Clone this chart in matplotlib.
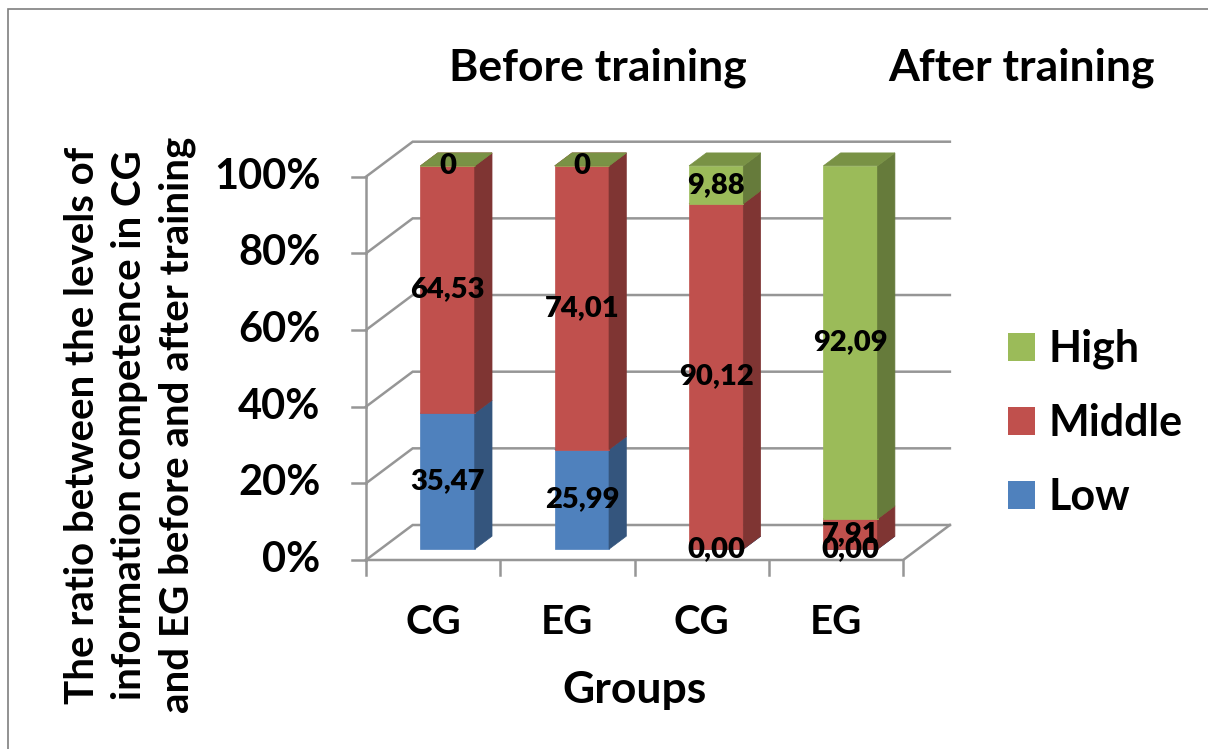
import matplotlib.pyplot as plt
from matplotlib.patches import Polygon, Rectangle, Patch
from matplotlib.colors import to_rgb

# data
groups = ['CG', 'EG', 'CG', 'EG']
phases = ['Before training', 'After training']
series = ['Low', 'Middle', 'High']
low = [35.47, 25.99, 0.0, 0.0]
middle = [64.53, 74.01, 90.12, 7.91]
high = [0, 0, 9.88, 92.09]
y_ticks = [0, 20, 40, 60, 80, 100]

colors = {'Low': '#4F81BD', 'Middle': '#C0504D', 'High': '#9BBB59'}

plt.rcParams['font.family'] = ['Lato', 'DejaVu Sans']
plt.rcParams['font.weight'] = 'bold'

# oblique "3D" look: depth vector of the box in data units (category, percent)
DX, DY = 0.348, 9.13
BAR_W = 0.404
F0, F1 = 0.31, 0.68   # front and back of the bars inside the depth
GRID = '#969696'


def shade(c, k):
    r, g, b = to_rgb(c)
    return (r * k, g * k, b * k)


def fmt(v):
    if isinstance(v, int):
        return str(v)
    return f"{v:.2f}".replace('.', ',')


fig = plt.figure(figsize=(12.08, 7.49), dpi=100)
ax = fig.add_axes([0, 0, 1, 1])
ax.set_xlim(-2.725, 6.270)
ax.set_ylim(-49.31, 146.1)
ax.axis('off')

n = len(groups)

# walls / gridlines
for v in y_ticks:
    ax.plot([0, DX, n + DX], [v, v + DY, v + DY], color=GRID, lw=1.8, zorder=1,
            solid_joinstyle='miter')
    ax.plot([-0.106, 0], [v, v], color=GRID, lw=1.8, zorder=1)
    ax.text(-0.34, v, f"{v}%", ha='right', va='center', fontsize=30,
            fontweight='bold')
ax.plot([0, 0], [0, 100], color=GRID, lw=1.8, zorder=1)
ax.plot([0, n, n + DX], [0, 0, DY], color=GRID, lw=1.8, zorder=1,
        solid_joinstyle='miter')
for i in range(n + 1):
    ax.plot([i, i], [0, -3.9], color=GRID, lw=1.8, zorder=1)

# stacked bars
stack = {'Low': low, 'Middle': middle, 'High': high}
for i in range(n):
    base = 0.0
    xl = i + 0.5 - BAR_W / 2 + F0 * DX
    xr = xl + BAR_W
    ox, oy = (F1 - F0) * DX, (F1 - F0) * DY
    for s in series:
        v = stack[s][i]
        c = colors[s]
        y0 = base + F0 * DY
        y1 = base + v + F0 * DY
        front = [(xl, y0), (xr, y0), (xr, y1), (xl, y1)]
        side = [(xr, y0), (xr + ox, y0 + oy), (xr + ox, y1 + oy), (xr, y1)]
        top = [(xl, y1), (xr, y1), (xr + ox, y1 + oy), (xl + ox, y1 + oy)]
        for pts, k in [(front, 1.0), (side, 0.66), (top, 0.78)]:
            ax.add_patch(Polygon(pts, closed=True, fc=shade(c, k), ec=shade(c, k),
                                 lw=0.5, zorder=2))
        ax.text((xl + xr) / 2, (y0 + y1) / 2, fmt(v), ha='center', va='center',
                fontsize=21, fontweight='heavy', zorder=5)
        base += v

# category labels and axis titles
for i, g in enumerate(groups):
    ax.text(i + 0.5, -16.2, g, ha='center', va='center', fontsize=29,
            fontweight='bold')
ax.text(2.0, -33.9, 'Groups', ha='center', va='center', fontsize=32,
        fontweight='bold')
ax.text(-1.757, 35.2,
        'The ratio between the levels of\ninformation competence in CG\nand EG before and after training',
        rotation=90, ha='center', va='center', multialignment='center',
        fontsize=29, fontweight='bold', linespacing=1.33)

ax.text(1.727, 128.4, phases[0], ha='center', va='center', fontsize=32,
        fontweight='bold')
ax.text(4.885, 128.4, phases[1], ha='center', va='center', fontsize=32,
        fontweight='bold')

# legend
handles = [Patch(fc=colors[s], ec='none') for s in series[::-1]]
fig.legend(handles, series[::-1], loc='center left',
           bbox_to_anchor=(1008 / 1208, (749 - 423) / 749),
           frameon=False, prop={'size': 31, 'weight': 'bold'},
           handlelength=0.63, handleheight=0.63,
           handletextpad=0.3, labelspacing=0.79, borderpad=0, borderaxespad=0)

# outer chart border
fig.add_artist(Rectangle((8 / 1208, -0.1), 1.2, (749 - 9) / 749 + 0.1,
                         transform=fig.transFigure, fill=False, ec='#7F7F7F', lw=1.2))

fig.savefig('out.png', dpi=100)
